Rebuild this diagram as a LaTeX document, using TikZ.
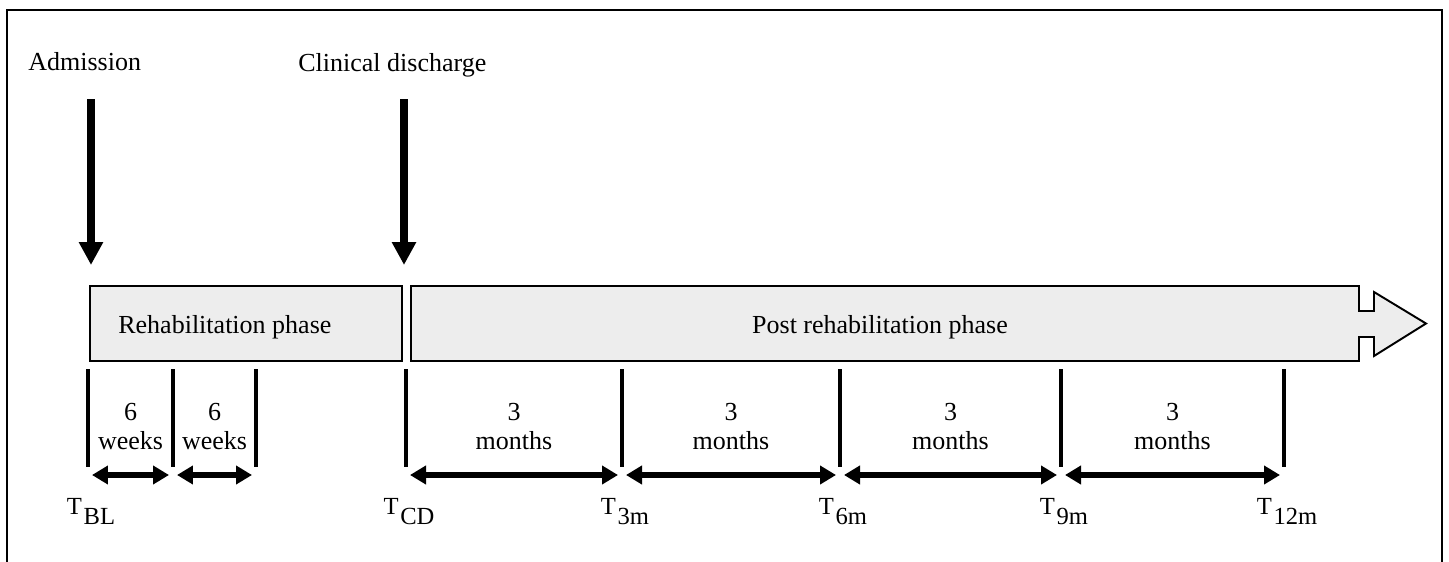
\documentclass[tikz,border=0pt]{standalone}
\usepackage{fontspec}
\setmainfont{Liberation Serif}
\usetikzlibrary{arrows.meta,positioning}

\begin{document}
\begin{tikzpicture}[x=0.02cm, y=-0.02cm,
    txt/.style={font=\fontsize{14.8}{17}\selectfont, inner sep=0pt},
    tlabel/.style={font=\fontsize{14}{16}\selectfont, inner sep=0pt, anchor=base},
    phase/.style={draw=black, line width=1.1pt, fill=black!7},
    event/.style={line width=4.5pt, -{Triangle[length=0.46cm, width=0.46cm]}},
    tick/.style={line width=2.3pt},
    span/.style={line width=3.6pt, shorten <=0.08cm, shorten >=0.08cm,
        {Triangle[length=0.32cm, width=0.36cm]}-{Triangle[length=0.32cm, width=0.36cm]}}]

    \useasboundingbox (0,0) rectangle (1449,561);
    % frame, open at the bottom
    \draw[line width=1.1pt] (7,565) -- (7,10) -- (1442,10) -- (1442,565);

    % events
    \node[txt, anchor=base west] (admit) at (28,70) {Admission};
    \node[txt, anchor=base west] (discharge) at (298,71) {Clinical discharge};
    \coordinate (admit-top) at (91,99);
    \coordinate (admit-tip) at (91,265);
    \coordinate (discharge-top) at (404,99);
    \coordinate (discharge-tip) at (404,265);
    \draw[event] (admit-top) -- (admit-tip);
    \draw[event] (discharge-top) -- (discharge-tip);

    % phases
    \node[phase, minimum width=6.24cm, minimum height=1.5cm] (rehab) at (246,323.5) {};
    \node[txt, anchor=base west] (rehab-text) at (118,333) {Rehabilitation phase};
    \draw[phase] (411,286) -- (1359,286) -- (1359,311) -- (1374,311) -- (1374,292)
        -- (1426,323.5) -- (1374,356) -- (1374,337) -- (1359,337) -- (1359,361)
        -- (411,361) -- cycle;
    \node[txt, anchor=base] (post) at (880,333) {Post rehabilitation phase};

    % ticks
    \foreach \x/\n in {88/bl, 173/wa, 256/wb, 406/cd, 622/ma, 840/mb, 1061/mc, 1284/md} {
        \draw[tick] (\x,369) coordinate (\n-top) -- (\x,467) coordinate (\n-bot);
        \coordinate (\n-arr) at (\x,475);
    }

    % periods
    \draw[span] (bl-arr) -- (wa-arr);
    \draw[span] (wa-arr) -- (wb-arr);
    \draw[span] (cd-arr) -- (ma-arr);
    \draw[span] (ma-arr) -- (mb-arr);
    \draw[span] (mb-arr) -- (mc-arr);
    \draw[span] (mc-arr) -- (md-arr);
    \foreach \x/\n in {130.5/wka, 214.5/wkb} {
        \node[txt, align=center] (\n) at (\x,426.5) {6\\weeks};
    }
    \foreach \x/\n in {514/mna, 731/mnb, 950.5/mnc, 1172.5/mnd} {
        \node[txt, align=center] (\n) at (\x,426.5) {3\\months};
    }

    % time points
    \foreach \x/\n/\s in {88/bl/BL, 406/cd/CD, 622/ma/3m, 840/mb/6m, 1061/mc/9m, 1284/md/12m} {
        \node[tlabel] (t-\n) at (\x+3,514) {T\kern1pt\raisebox{-6.2pt}{\s}};
    }
\end{tikzpicture}
\end{document}
